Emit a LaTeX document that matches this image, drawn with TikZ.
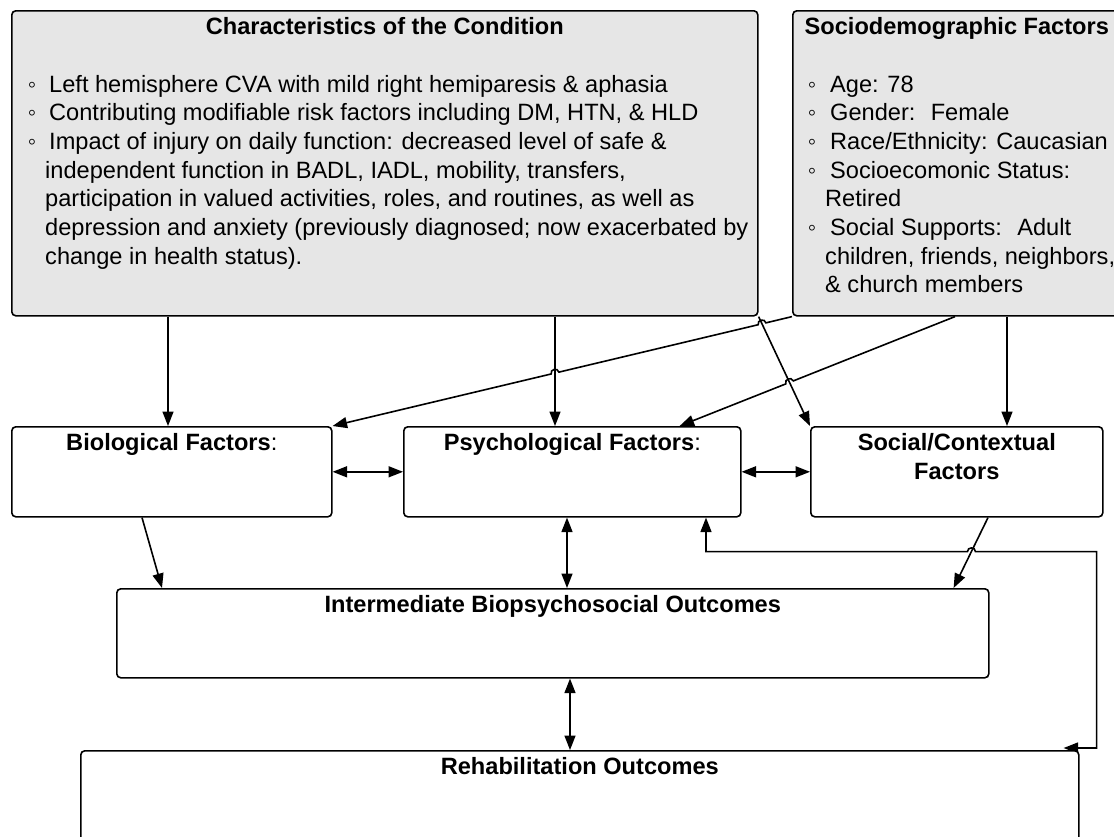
\documentclass[tikz,border=0pt]{standalone}
\usepackage{fontspec}
\setmainfont{Liberation Sans}
\usetikzlibrary{arrows.meta,calc,backgrounds}
\definecolor{boxgray}{HTML}{E6E6E6}
\tikzset{
  box/.style={draw=black, line width=1.6pt, rounded corners=4pt, inner sep=0pt,
              anchor=north west, fill=white},
  graybox/.style={box, fill=boxgray},
  tip/.tip={Triangle[length=14.5pt,width=11pt]},
  arr/.style={line width=1.6pt, -tip},
  biarr/.style={line width=1.6pt, tip-tip},
  hop/.style={bend right=90, looseness=1.6},
  body/.style={inner sep=0pt, anchor=base west, font=\fontsize{23.6}{28.7}\selectfont},
  bul/.style={body, anchor=base},
  head/.style={inner sep=0pt, anchor=base, font=\fontsize{23.6}{28.7}\selectfont\bfseries},
}
\begin{document}
\begin{tikzpicture}[x=1pt,y=-1pt]
\useasboundingbox (0,0) rectangle (1114,836);

% boxes
\node[graybox, minimum width=746pt, minimum height=305pt] (char)  at (11,10) {};
\node[graybox, minimum width=328pt, minimum height=305pt] (socio) at (792,10) {};
\node[box, minimum width=320pt, minimum height=90pt] (bio)    at (11,426) {};
\node[box, minimum width=337pt, minimum height=90pt] (psych)  at (403,426) {};
\node[box, minimum width=292pt, minimum height=90pt] (social) at (810,426) {};
\node[box, minimum width=872pt, minimum height=89pt] (inter)  at (116,588) {};
\node[box, minimum width=998pt, minimum height=120pt] (rehab) at (80,750) {};

% condition characteristics
\node[head] (chart) at ($(char.north)+(0,24)$) {Characteristics of the Condition};
\foreach \yy/\nm in {92/1, 120.7/2, 149.4/3}
  \node[bul] (cb\nm) at (32,\yy) {◦};
\node[body] (cl1) at (49,92)    {Left hemisphere CVA with mild right hemiparesis \& aphasia};
\node[body] (cl2) at (49,120.7) {Contributing modifiable risk factors including DM, HTN, \& HLD};
\node[body] (cl3) at (49,149.4) {Impact of injury on daily function: decreased level of safe \&};
\node[body] (cl4) at (45,178.1) {independent function in BADL, IADL, mobility, transfers,};
\node[body] (cl5) at (45,206.8) {participation in valued activities, roles, and routines, as well as};
\node[body] (cl6) at (45,235.5) {depression and anxiety (previously diagnosed; now exacerbated by};
\node[body] (cl7) at (45,264.2) {change in health status).};

% sociodemographic factors
\node[head] (sociot) at ($(socio.north)+(0,24)$) {Sociodemographic Factors};
\foreach \yy/\nm in {92/1, 120.7/2, 149.4/3, 178.1/4, 235.5/6}
  \node[bul] (sb\nm) at (812,\yy) {◦};
\node[body] (sl1) at (830,92)    {Age: 78};
\node[body] (sl2) at (830,120.7) {Gender:~ Female};
\node[body] (sl3) at (830,149.4) {Race/Ethnicity: Caucasian};
\node[body] (sl4) at (830,178.1) {Socioecomonic Status:};
\node[body] (sl5) at (825,206.8) {Retired};
\node[body] (sl6) at (830,235.5) {Social Supports:~ Adult};
\node[body] (sl7) at (825,264.2) {children, friends, neighbors,};
\node[body] (sl8) at (825,292.9) {\& church members};

% titles of the lower boxes
\node[head] (biot) at ($(bio.north)+(0,24)$) {Biological Factors\mdseries:};
\node[head] (psycht) at ($(psych.north)+(0,24)$) {Psychological Factors\mdseries:};
\node[head] (socialt1) at ($(social.north)+(0,24)$) {Social/Contextual};
\node[head] (socialt2) at ($(social.north)+(0,53)$) {Factors};
\node[head] (intert) at ($(inter.north)+(0,24)$) {Intermediate Biopsychosocial Outcomes};
\node[head] (rehabt) at ($(rehab.north)+(0,24)$) {Rehabilitation Outcomes};

% connector end points
\coordinate (c2a) at ($(char.south west)+(544,0)$);
\coordinate (c2b) at ($(psych.north west)+(152,0)$);
\coordinate (c3a) at (char.south east);
\coordinate (c3b) at (social.north west);
\coordinate (c4a) at (socio.south west);
\coordinate (c4b) at (bio.north east);
\coordinate (c5a) at ($(socio.south west)+(163,0)$);
\coordinate (c5b) at ($(psych.north east)+(-62,0)$);
\coordinate (x43) at (intersection of c4a--c4b and c3a--c3b);
\coordinate (x42) at (intersection of c4a--c4b and c2a--c2b);
\coordinate (x53) at (intersection of c5a--c5b and c3a--c3b);
\coordinate (c10a) at ($(social.south west)+(178,0)$);
\coordinate (c10b) at ($(inter.north east)+(-36,0)$);
\coordinate (fb1) at ($(rehab.north east)+(-16,-2)$);
\coordinate (fb2) at ($(fb1)+(33,0)$);
\coordinate (fb5) at ($(psych.south west)+(303,0)$);
\coordinate (fb4) at ($(fb5)+(0,34)$);
\coordinate (fb3) at (fb2 |- fb4);
\coordinate (x10) at (intersection of c10a--c10b and fb3--fb4);

% influences from the top boxes
\draw[arr] ($(char.south west)+(157,0)$) -- ($(bio.north west)+(157,0)$);
\draw[arr] (c2a) -- (c2b);
\draw[arr] (c3a) -- (c3b);
\draw[arr] (c4a) -- ($(x43)!4pt!(c4a)$) to[hop] ($(x43)!4pt!(c4b)$)
           -- ($(x42)!4pt!(c4a)$) to[hop] ($(x42)!4pt!(c4b)$) -- (c4b);
\draw[arr] (c5a) -- ($(x53)!4pt!(c5a)$) to[hop] ($(x53)!4pt!(c5b)$) -- (c5b);
\draw[arr] ($(socio.south west)+(215,0)$) -- ($(social.north west)+(197,0)$);

% links among the factor boxes
\draw[biarr] (bio.east) -- (psych.west);
\draw[biarr] (psych.east) -- (social.west);

% towards the outcomes
\draw[arr] ($(bio.south west)+(131,0)$) -- ($(inter.north west)+(46,0)$);
\draw[biarr] ($(psych.south west)+(164,0)$) -- ($(inter.north west)+(451,0)$);
\draw[arr] (c10a) -- (c10b);
\draw[biarr] ($(inter.south west)+(454,0)$) -- ($(rehab.north west)+(490,0)$);

% feedback loop, partly hidden behind the rehabilitation box
\begin{pgfonlayer}{background}
\draw[biarr] (fb1) -- (fb2) -- (fb3) -- ($(x10)!4pt!(fb3)$) to[hop] ($(x10)!4pt!(fb4)$)
             -- (fb4) -- (fb5);
\end{pgfonlayer}
\end{tikzpicture}
\end{document}
